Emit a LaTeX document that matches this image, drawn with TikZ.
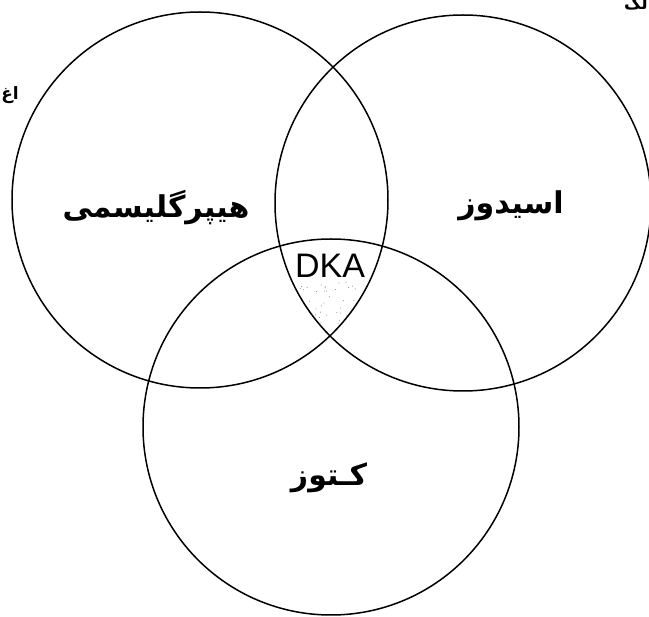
\documentclass[tikz,border=0pt]{standalone}
\usepackage{fontspec}
\setmainfont{Liberation Sans}
\newfontfamily\arabicfont[Script=Arabic]{DejaVu Sans}
\TeXXeTstate=1
\usetikzlibrary{positioning}

\begin{document}
\begin{tikzpicture}[x=1pt,y=-1pt,
  ring/.style={line width=1.5pt},
  falabel/.style={font=\arabicfont\bfseries\fontsize{30}{34}\selectfont, inner sep=0pt},
  facut/.style={font=\arabicfont\bfseries\fontsize{17}{19}\selectfont, inner sep=0pt}]
\useasboundingbox (0,0) rectangle (649,617);
% Centres of the three sets
\coordinate (cH) at (200,200);
\coordinate (cA) at (463,203);
\coordinate (cK) at (331,427);
% Speckle inside the common part
\begin{scope}
  \clip (cH) circle (188pt);
  \clip (cA) circle (188pt);
  \clip (cK) circle (188pt);
  \pgfmathsetseed{7}
  \foreach \i in {1,...,45} {
    \pgfmathsetmacro{\px}{300+60*rnd}
    \pgfmathsetmacro{\py}{280+45*rnd}
    \fill[black!50] (\px,\py) circle (0.5pt);
  }
\end{scope}
% Circles
\draw[ring] (cH) circle (188pt);
\draw[ring] (cA) circle (188pt);
\draw[ring] (cK) circle (188pt);
% Labels
\node[falabel] (hyper) at (156,208) {\beginR هیپرگلیسمی\endR};
\node[falabel] (acid) at (511,206) {\beginR اسیدوز\endR};
\node[falabel] (keto) at (329,478) {\beginR کـتوز\endR};
\node[font=\fontsize{34}{34}\selectfont, inner sep=0pt] (dka) at (330,266) {DKA};
% Words cut by the page edge
\node[facut, anchor=base east] (cutL) at (19,100) {\beginR اغ\endR};
\node[facut, anchor=base east] (cutR) at (648,10) {\beginR لک\endR};
\end{tikzpicture}
\end{document}
